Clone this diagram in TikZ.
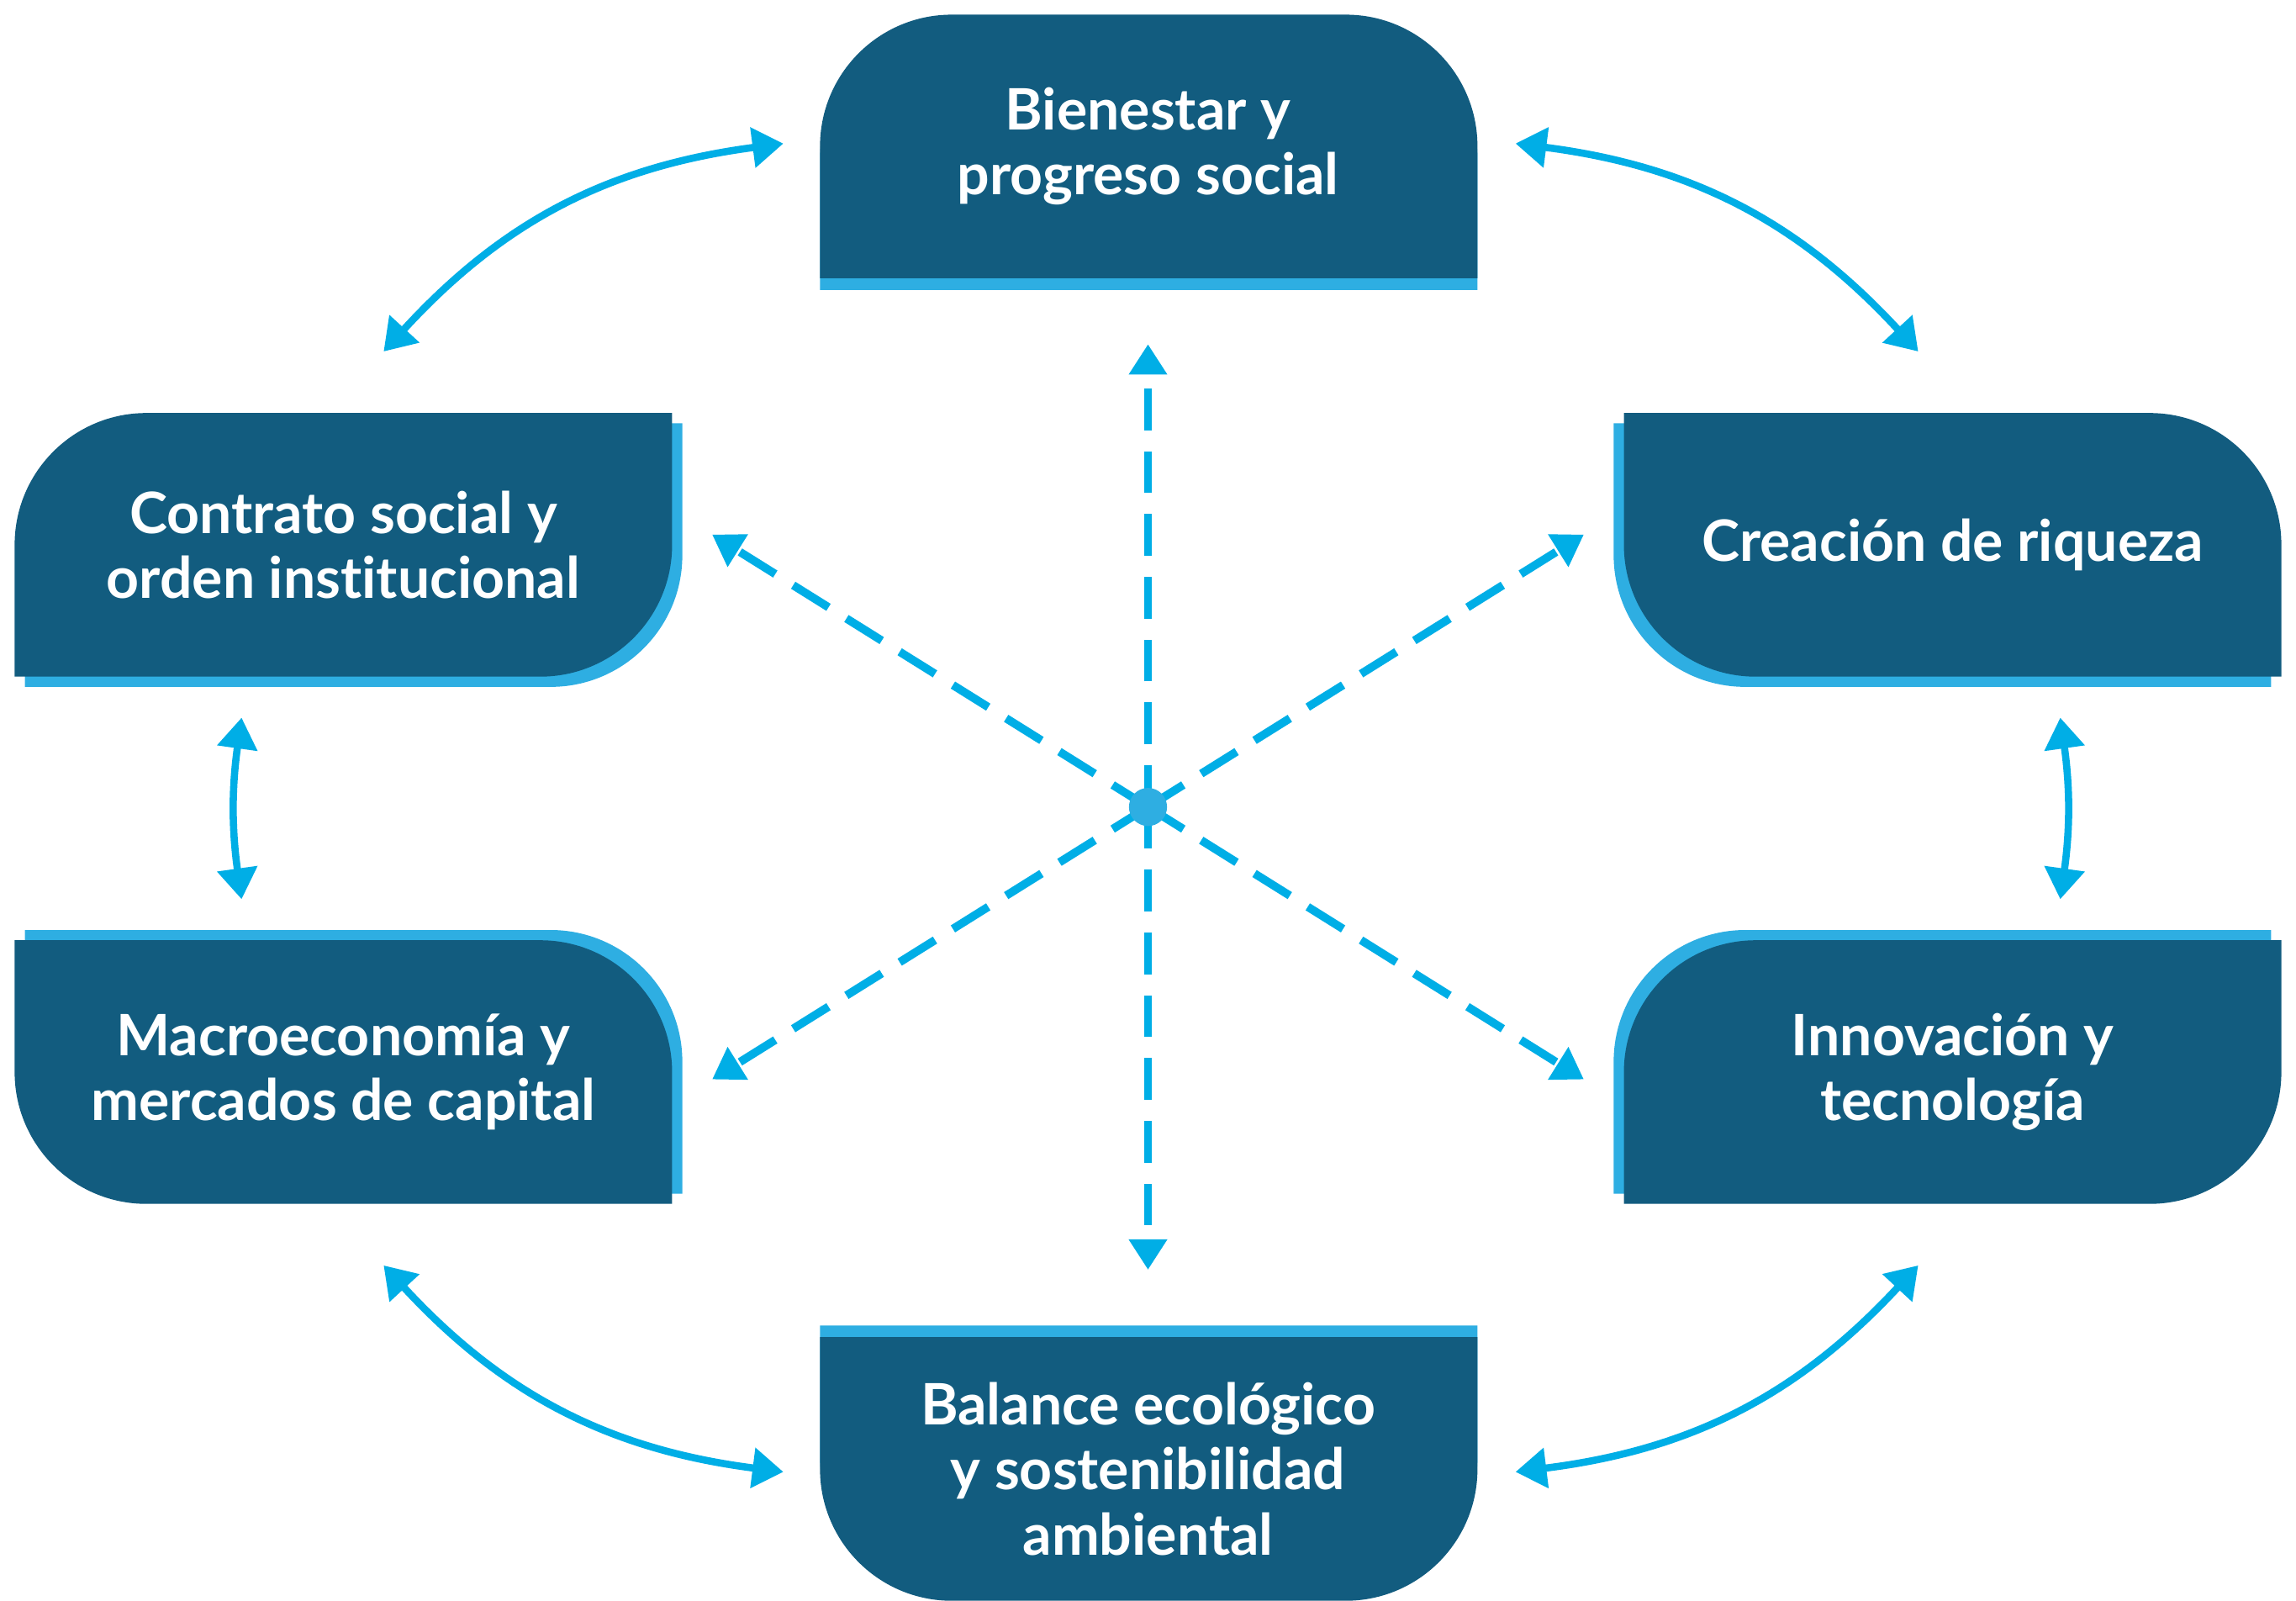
\documentclass[tikz,border=0pt]{standalone}
\usepackage{fontspec}
\setmainfont{Lato}[Ligatures=NoCommon]
\usetikzlibrary{arrows.meta}

\definecolor{panelblue}{HTML}{125C7F}
\definecolor{glowblue}{HTML}{2EAEE2}
\definecolor{arrowblue}{HTML}{00AEE6}

% Panel outlines, drawn from their lower left corner
\tikzset{
  pics/roof/.style={code={
    \fill[#1] (0,0) -- (0,\panelR) arc[start angle=180,end angle=90,radius=\panelR]
      -- ++({\panelW-2*\panelR},0) arc[start angle=90,end angle=0,radius=\panelR]
      -- ++(0,-\panelR) -- cycle;}},
  pics/bowl/.style={code={
    \fill[#1] (0,2*\panelR) -- (0,\panelR) arc[start angle=180,end angle=270,radius=\panelR]
      -- ++({\panelW-2*\panelR},0) arc[start angle=270,end angle=360,radius=\panelR]
      -- ++(0,\panelR) -- cycle;}},
  pics/leafA/.style={code={
    \fill[#1] (0,0) -- (0,\panelR) arc[start angle=180,end angle=90,radius=\panelR]
      -- ++({\panelW-\panelR},0) -- ++(0,-\panelR)
      arc[start angle=0,end angle=-90,radius=\panelR] -- cycle;}},
  pics/leafB/.style={code={
    \fill[#1] (0,\panelR) -- ++(0,\panelR) -- ++({\panelW-\panelR},0)
      arc[start angle=90,end angle=0,radius=\panelR] -- ++(0,-\panelR)
      -- ++({\panelR-\panelW},0) arc[start angle=270,end angle=180,radius=\panelR] -- cycle;}}
}

\begin{document}
\begin{tikzpicture}[
    paneltext/.style={text=white, align=center, font=\bfseries\fontsize{11.1}{12.6}\selectfont},
    spoke/.style={arrowblue, line width=1.6pt, dash pattern=on 8.1pt off 4.1pt,
      -{Triangle[length=5.9pt,width=7.1pt]}},
    link/.style={arrowblue, line width=1.4pt,
      {Triangle[length=6pt,width=7.6pt]}-{Triangle[length=6pt,width=7.6pt]}},
    hubdot/.style={circle, fill=glowblue, inner sep=0pt, minimum size=0.26cm}
  ]

    % Fix the page to the size of the figure
    \useasboundingbox (-7.84,-5.42) rectangle (7.84,5.51);

    % Size of every panel
    \def\panelW{4.49}
    \def\panelR{0.9}

    % Light strips first, then the dark panels on top of them
    \pic at (-2.24,3.53) {roof=glowblue};
    \pic at (-2.24,3.61) {roof=panelblue};

    \pic at (-7.67,0.82) {leafA=glowblue};
    \pic at (-7.74,0.89) {leafA=panelblue};

    \pic at (3.18,0.82) {leafB=glowblue};
    \pic at (3.25,0.89) {leafB=panelblue};

    \pic at (-7.67,-2.64) {leafB=glowblue};
    \pic at (-7.74,-2.71) {leafB=panelblue};

    \pic at (3.18,-2.64) {leafA=glowblue};
    \pic at (3.25,-2.71) {leafA=panelblue};

    \pic at (-2.24,-5.34) {bowl=glowblue};
    \pic at (-2.24,-5.42) {bowl=panelblue};

    % Panel texts
    \node[paneltext] (bien) at (0,4.51) {Bienestar y\\progreso social};
    \node[paneltext] (contrato) at (-5.495,1.79) {Contrato social y\\orden institucional};
    \node[paneltext] (riqueza) at (5.495,1.79) {Creación de riqueza};
    \node[paneltext] (macro) at (-5.495,-1.81) {Macroeconomía y\\mercados de capital};
    \node[paneltext] (innov) at (5.495,-1.81) {Innovación y\\tecnología};
    \node[paneltext] (balance) at (0,-4.52) {Balance ecológico\\y sostenibilidad\\ambiental};

    % Centre of the star and the tips of its dashed arrows
    \coordinate (hub) at (0,0);
    \coordinate (tN) at (90:3.16);
    \coordinate (tS) at (270:3.16);
    \coordinate (tNE) at (32:3.51);
    \coordinate (tNW) at (148:3.51);
    \coordinate (tSW) at (212:3.51);
    \coordinate (tSE) at (328:3.51);

    \foreach \t in {tN,tS,tNE,tNW,tSW,tSE}
      \draw[spoke] (hub) -- (\t);

    \node[hubdot] (dot) at (hub) {};

    % Ends of the curved arrows between neighbouring panels
    \coordinate (ulA) at (-5.22,3.11);
    \coordinate (ulB) at (-2.49,4.53);
    \coordinate (urA) at (2.51,4.53);
    \coordinate (urB) at (5.26,3.11);
    \coordinate (blA) at (-5.22,-3.13);
    \coordinate (blB) at (-2.49,-4.54);
    \coordinate (brA) at (2.51,-4.54);
    \coordinate (brB) at (5.26,-3.13);
    \coordinate (lvA) at (-6.19,0.61);
    \coordinate (lvB) at (-6.19,-0.63);
    \coordinate (rvA) at (6.23,0.61);
    \coordinate (rvB) at (6.23,-0.63);

    \draw[link] (ulA) to[bend left=20] (ulB);
    \draw[link] (urA) to[bend left=20] (urB);
    \draw[link] (blA) to[bend right=20] (blB);
    \draw[link] (brA) to[bend right=20] (brB);
    \draw[link] (lvA) to[bend right=8] (lvB);
    \draw[link] (rvA) to[bend left=8] (rvB);

\end{tikzpicture}
\end{document}
